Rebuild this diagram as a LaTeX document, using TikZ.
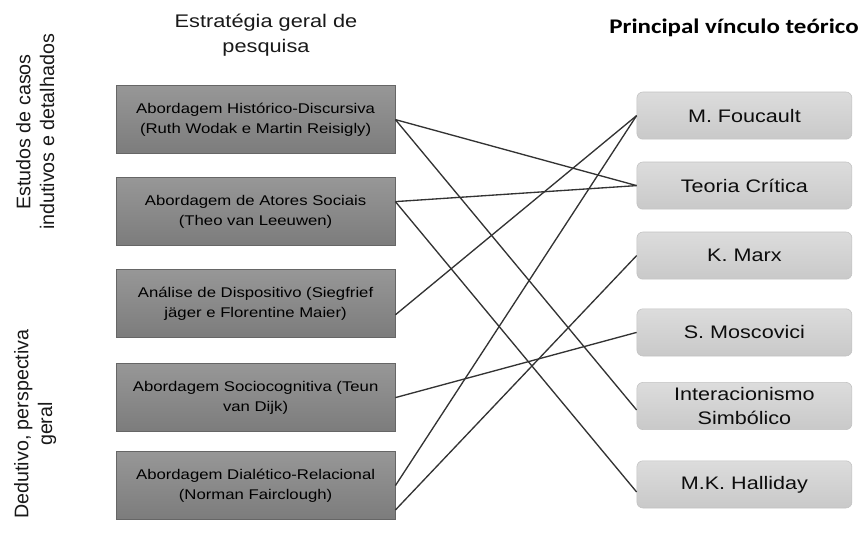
\documentclass[tikz,border=0pt]{standalone}
\usepackage{fontspec}
\setmainfont{Liberation Sans}[FakeStretch=1.19]
\newfontfamily\uprightsans{Liberation Sans}
\newfontfamily\titlefont{Carlito}[FakeStretch=1.2]
\definecolor{methodtop}{HTML}{979797}
\definecolor{methodbot}{HTML}{7C7C7C}
\definecolor{methodedge}{HTML}{666666}
\definecolor{theorytop}{HTML}{DCDCDC}
\definecolor{theorybot}{HTML}{C9C9C9}
\definecolor{theoryedge}{HTML}{C2C2C2}
\definecolor{linkgray}{HTML}{333333}
\tikzstyle{method} = [rectangle, minimum width=6.975cm, minimum height=1.7cm, align=center, draw=methodedge, top color=methodtop, bottom color=methodbot, text=black, font=\fontsize{10}{14.2}\selectfont]
\tikzstyle{theory} = [rectangle, rounded corners=0.15cm, minimum width=5.375cm, minimum height=1.18cm, inner sep=1pt, align=center, draw=theoryedge, top color=theorytop, bottom color=theorybot, text=black!95, node distance=1.75cm, font=\fontsize{12.9}{17.7}\selectfont]
\tikzstyle{heading} = [align=center, text=black!90, font=\fontsize{13}{17.7}\selectfont]
\tikzstyle{side} = [rotate=90, align=center, text=black!90, font=\uprightsans\fontsize{14}{17}\selectfont]
\tikzstyle{link} = [draw=linkgray, line width=0.95pt]

\begin{document}
\begin{tikzpicture}[node distance=2.3cm]
\useasboundingbox (0,0) rectangle (21.575,-13.425);

% titles
\node (strat) [heading] at (6.65,-0.88) {Estratégia geral de\\pesquisa};
\node (vinc) [heading, font=\titlefont\bfseries\fontsize{14.8}{17}\selectfont, text=black] at (18.35,-0.7) {Principal vínculo teórico};
\node (indut) [side] at (0.88,-3.3) {Estudos de casos\\indutivos e detalhados};
\node (dedut) [side] at (0.88,-10.6) {Dedutivo, perspectiva\\geral};

% left column
\node (b1) [method] at (6.39,-2.99) {Abordagem Histórico-Discursiva\\(Ruth Wodak e Martin Reisigly)};
\node (b2) [method, below of=b1] {Abordagem de Atores Sociais\\(Theo van Leeuwen)};
\node (b3) [method, below of=b2] {Análise de Dispositivo (Siegfrief\\jäger e Florentine Maier)};
\node (b4) [method, below of=b3, yshift=-0.05cm] {Abordagem Sociocognitiva (Teun\\van Dijk)};
\node (b5) [method, below of=b4, yshift=0.1cm] {Abordagem Dialético-Relacional\\(Norman Fairclough)};

% right column
\node (fou) [theory] at (18.61,-2.89) {M. Foucault};
\node (teo) [theory, below of=fou] {Teoria Crítica};
\node (marx) [theory, below of=teo] {K. Marx};
\node (mos) [theory, below of=marx, yshift=-0.17cm] {S. Moscovici};
\node (int) [theory, below of=mos, yshift=-0.09cm] {Interacionismo\\Simbólico};
\node (hal) [theory, below of=int, yshift=-0.21cm] {M.K. Halliday};

\draw [link] (b1.east) -- (teo.west);
\draw [link] (b1.east) -- ([yshift=-0.1cm]int.west);
\draw [link] ([yshift=0.25cm]b2.east) -- (teo.west);
\draw [link] ([yshift=0.25cm]b2.east) -- ([yshift=-0.19cm]hal.west);
\draw [link] ([yshift=-0.28cm]b3.east) -- (fou.west);
\draw [link] (b4.east) -- (mos.west);
\draw [link] (b5.east) -- (fou.west);
\draw [link] ([yshift=-0.61cm]b5.east) -- (marx.west);
\end{tikzpicture}
\end{document}
